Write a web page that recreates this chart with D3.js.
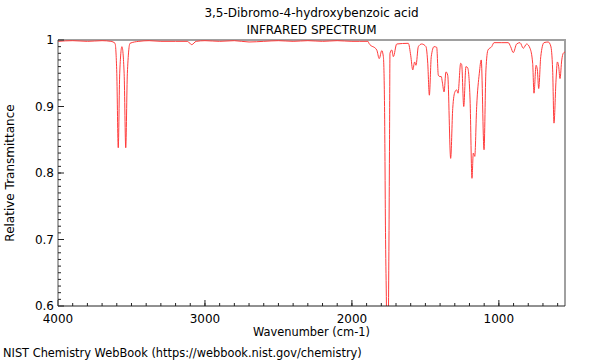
<!DOCTYPE html>
<html>
<head>
<meta charset="utf-8">
<script src="https://cdn.jsdelivr.net/npm/d3@7"></script>
<style>
  body { margin: 0; background: #fff; }
  svg { display: block; font-family: "DejaVu Sans", sans-serif; }
</style>
</head>
<body>
<div id="chart"></div>
<script>
// Spectrum: wavenumber (cm-1) and relative transmittance
const wavenumbers = [
  4000, 3900, 3800, 3700, 3640, 3612, 3600, 3590, 3580, 3565, 3550, 3539, 3528, 3510,
  3450, 3380, 3300, 3200, 3120, 3090, 3060, 3000, 2900, 2800, 2700, 2600, 2500,
  2400, 2300, 2200, 2100, 2000, 1950, 1891, 1884, 1831, 1814, 1797, 1786, 1778,
  1771, 1765, 1759, 1751, 1744, 1741, 1729, 1718, 1695, 1616, 1600, 1586, 1573,
  1564, 1548, 1525, 1496, 1484, 1473, 1460, 1441, 1423, 1412, 1401, 1392, 1385,
  1373, 1360, 1348, 1328, 1314, 1299, 1287, 1278, 1260, 1253, 1239, 1224, 1212,
  1196, 1183, 1174, 1164, 1151, 1133, 1120, 1101, 1088, 1074, 1049, 1033, 980,
  936, 920, 902, 879, 856, 834, 811, 788, 770, 761, 747, 738, 729, 715, 693,
  664, 647, 634, 625, 611, 602, 593, 584, 572, 562, 550
];
const transmittance = [
  0.998, 0.999, 0.998, 0.999, 0.998, 0.995, 0.95, 0.838, 0.95, 0.99, 0.95, 0.838, 0.95, 0.995,
  0.998, 0.999, 0.998, 0.998, 0.998, 0.993, 0.998, 0.999, 0.998, 0.999, 0.997, 0.998, 0.999,
  0.998, 0.999, 0.998, 0.999, 0.998, 0.998, 0.998, 0.995, 0.985, 0.972, 0.984, 0.975, 0.9,
  0.7, 0.6, 0.45, 0.6, 0.85, 0.98, 0.985, 0.975, 0.994, 0.995, 0.977, 0.955, 0.967,
  0.962, 0.99, 0.994, 0.99, 0.965, 0.917, 0.975, 0.99, 0.989, 0.947, 0.945, 0.945, 0.937,
  0.922, 0.952, 0.947, 0.822, 0.897, 0.922, 0.925, 0.92, 0.965, 0.963, 0.9, 0.96, 0.958,
  0.91, 0.792, 0.83, 0.825, 0.9, 0.95, 0.97, 0.835, 0.955, 0.985, 0.99, 0.996, 0.996,
  0.996, 0.99, 0.981, 0.994, 0.996, 0.9875, 0.994, 0.9875, 0.965, 0.92, 0.962, 0.955, 0.927, 0.975, 0.996,
  0.997, 0.991, 0.955, 0.875, 0.94, 0.967, 0.96, 0.942, 0.97, 0.98, 0.982
];
const xTicks = [4000, 3000, 2000, 1000];
const yTicks = [0.6, 0.7, 0.8, 0.9, 1];

const title = "3,5-Dibromo-4-hydroxybenzoic acid";
const subtitle = "INFRARED SPECTRUM";
const xLabel = "Wavenumber (cm-1)";
const yLabel = "Relative Transmittance";
const footer = "NIST Chemistry WebBook (https://webbook.nist.gov/chemistry)";

const width = 600, height = 360;
const margin = { top: 40, right: 35, bottom: 54, left: 58 };

const svg = d3.select("#chart").append("svg")
  .attr("width", width)
  .attr("height", height);

const x = d3.scaleLinear()
  .domain([4000, 550])
  .range([margin.left, width - margin.right]);
const y = d3.scaleLinear()
  .domain([0.6, 1])
  .range([height - margin.bottom, margin.top]);

// Clip so the deep carbonyl band runs off the bottom
svg.append("defs").append("clipPath")
  .attr("id", "plot-clip")
  .append("rect")
  .attr("x", margin.left)
  .attr("y", margin.top)
  .attr("width", x.range()[1] - margin.left)
  .attr("height", y.range()[0] - margin.top);

// Frame: grey top and right
svg.append("path")
  .attr("d", `M${margin.left},${margin.top}H${x.range()[1]}V${y.range()[0]}`)
  .attr("fill", "none")
  .attr("stroke", "#a0a0a0")
  .attr("stroke-width", 2);

const data = wavenumbers.map((w, i) => ({ w: w, t: transmittance[i] }));

const line = d3.line()
  .x(d => x(d.w))
  .y(d => y(d.t))
  .curve(d3.curveMonotoneX);

svg.append("path")
  .datum(data)
  .attr("clip-path", "url(#plot-clip)")
  .attr("d", line)
  .attr("fill", "none")
  .attr("stroke", "#ff3b3b")
  .attr("stroke-width", 1);

// Bottom axis with inward ticks
const xAxis = svg.append("g")
  .attr("transform", `translate(0,${y.range()[0]})`);
xAxis.append("line")
  .attr("x1", margin.left).attr("x2", x.range()[1])
  .attr("stroke", "#222");
xAxis.selectAll(".minor")
  .data(d3.range(3900, 549, -100))
  .enter().append("line")
  .attr("x1", d => x(d)).attr("x2", d => x(d))
  .attr("y1", 0).attr("y2", -3)
  .attr("stroke", "#222");
xAxis.selectAll(".major")
  .data(xTicks)
  .enter().append("line")
  .attr("x1", d => x(d)).attr("x2", d => x(d))
  .attr("y1", 0).attr("y2", -6)
  .attr("stroke", "#222");
xAxis.selectAll("text")
  .data(xTicks)
  .enter().append("text")
  .attr("x", d => x(d))
  .attr("y", 17)
  .attr("text-anchor", "middle")
  .attr("font-size", 12)
  .text(d => d);

// Left axis
const yAxis = svg.append("g")
  .attr("transform", `translate(${margin.left},0)`);
yAxis.append("line")
  .attr("y1", margin.top).attr("y2", y.range()[0])
  .attr("stroke", "#555");
yAxis.selectAll(".minor")
  .data(d3.range(61, 100).map(v => v / 100))
  .enter().append("line")
  .attr("y1", d => y(d)).attr("y2", d => y(d))
  .attr("x1", 0).attr("x2", 3)
  .attr("stroke", "#222");
yAxis.selectAll(".major")
  .data(yTicks)
  .enter().append("line")
  .attr("y1", d => y(d)).attr("y2", d => y(d))
  .attr("x1", 0).attr("x2", 6)
  .attr("stroke", "#222");
yAxis.selectAll("text")
  .data(yTicks)
  .enter().append("text")
  .attr("x", -4)
  .attr("y", d => y(d))
  .attr("dy", "0.35em")
  .attr("text-anchor", "end")
  .attr("font-size", 12)
  .text(d => d3.format("~g")(d));

// Titles and labels
const cx = (margin.left + x.range()[1]) / 2;
svg.append("text").attr("x", cx).attr("y", 17)
  .attr("text-anchor", "middle").attr("font-size", 12).text(title);
svg.append("text").attr("x", cx).attr("y", 34)
  .attr("text-anchor", "middle").attr("font-size", 12).text(subtitle);
svg.append("text").attr("x", cx).attr("y", 336)
  .attr("text-anchor", "middle").attr("font-size", 11.4).text(xLabel);
svg.append("text")
  .attr("transform", `translate(14,${(margin.top + y.range()[0]) / 2}) rotate(-90)`)
  .attr("text-anchor", "middle").attr("font-size", 12).text(yLabel);
svg.append("text").attr("x", 3).attr("y", 357)
  .attr("font-size", 11.4).text(footer);
</script>
</body>
</html>
